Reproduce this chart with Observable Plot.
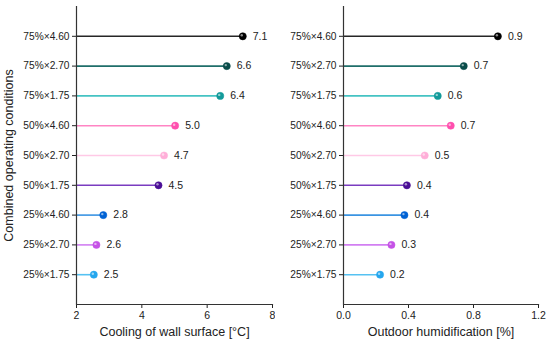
<!DOCTYPE html>
<html>
<head>
<meta charset="utf-8">
<script src="https://cdn.jsdelivr.net/npm/d3@7"></script>
<script src="https://cdn.jsdelivr.net/npm/@observablehq/plot@0.6"></script>
<style>
  html, body { margin: 0; padding: 0; background: #fff; }
  #wrap { display: flex; width: 550px; height: 344px; font-family: "Liberation Sans", Arial, sans-serif; }
</style>
</head>
<body>
<div id="wrap"></div>
<script>
const conditions = ["75%×4.60","75%×2.70","75%×1.75","50%×4.60","50%×2.70","50%×1.75","25%×4.60","25%×2.70","25%×1.75"];
const cooling = [7.09, 6.60, 6.40, 5.02, 4.68, 4.51, 2.82, 2.61, 2.53];
const coolingLabels = ["7.1","6.6","6.4","5.0","4.7","4.5","2.8","2.6","2.5"];
const humid = [0.95, 0.74, 0.58, 0.66, 0.50, 0.39, 0.375, 0.295, 0.225];
const humidLabels = ["0.9","0.7","0.6","0.7","0.5","0.4","0.4","0.3","0.2"];
const lineColors = ["#262626","#1f6e6a","#45c3c3","#ff85c4","#ffc9e6","#7a3cc0","#3a94e2","#d27ff2","#56c2f2"];
const dotColors  = ["#000000","#0a4d4a","#129a9a","#ff4fae","#ffaed8","#4b0f96","#0062d4","#c552e6","#24a6ee"];
const coolTicks = [2, 4, 6, 8];
const humidTicks = [0, 0.4, 0.8, 1.2];

function panel({values, labels, xDomain, ticks, fmt, xLabel, yLabel, width, marginLeft, marginRight}) {
  const data = conditions.map((c, i) => ({c, v: values[i], t: labels[i], lc: lineColors[i], dc: dotColors[i]}));
  const x0 = xDomain[0];
  const svg = Plot.plot({
    width, height: 344,
    marginTop: 6, marginBottom: 40, marginLeft, marginRight,
    style: {fontFamily: "Liberation Sans, Arial, sans-serif", fontSize: "10px", color: "#222", background: "#fff"},
    color: {type: "identity"},
    x: {domain: xDomain, ticks, tickFormat: fmt},
    y: {domain: conditions, type: "point", padding: 1, round: false},
    marks: [
      Plot.ruleY(data, {y: "c", x1: x0, x2: "v", stroke: "lc", strokeWidth: 1.6}),
      Plot.dot(data, {y: "c", x: "v", r: 3.6, fill: "dc", stroke: "dc", strokeWidth: 0.5}),
      Plot.dot(data, {y: "c", x: "v", r: 1.2, fill: "white", fillOpacity: 0.55, dx: -1, dy: -1}),
      Plot.text(data, {y: "c", x: "v", text: "t", dx: 10, textAnchor: "start", fontSize: 10.5, fill: "#222"}),
      Plot.axisX({ticks, tickFormat: fmt, tickSize: 4, tickPadding: 3, label: xLabel, labelAnchor: "center", labelOffset: 31, labelArrow: "none", fontSize: 10.5, fill: "#222"}),
      Plot.axisY({tickSize: 4, tickPadding: 3, label: yLabel, labelAnchor: "center", labelOffset: yLabel ? 72 : 0, labelArrow: "none", fontSize: 10.2, fill: "#222"}),
      Plot.ruleX([x0], {stroke: "#333", strokeWidth: 1.2}),
      Plot.frame({anchor: "bottom", stroke: "#333", strokeWidth: 1.2})
    ]
  });
  svg.querySelectorAll("text").forEach(t => {
    if (t.textContent === xLabel || (yLabel && t.textContent === yLabel)) {
      t.setAttribute("font-size", "12.5");
      t.style.fontSize = "12.5px";
      t.closest("g") && t.closest("g").setAttribute("font-size", "12.5");
    }
  });
  return svg;
}

const left = panel({
  values: cooling, labels: coolingLabels, xDomain: [2, 8], ticks: coolTicks, fmt: d3.format("d"),
  xLabel: "Cooling of wall surface [°C]", yLabel: "Combined operating conditions",
  width: 275, marginLeft: 76, marginRight: 3
});
const right = panel({
  values: humid, labels: humidLabels, xDomain: [0, 1.2], ticks: humidTicks, fmt: d3.format(".1f"),
  xLabel: "Outdoor humidification [%]", yLabel: null,
  width: 275, marginLeft: 68, marginRight: 12
});
document.getElementById("wrap").append(left, right);
</script>
</body>
</html>
